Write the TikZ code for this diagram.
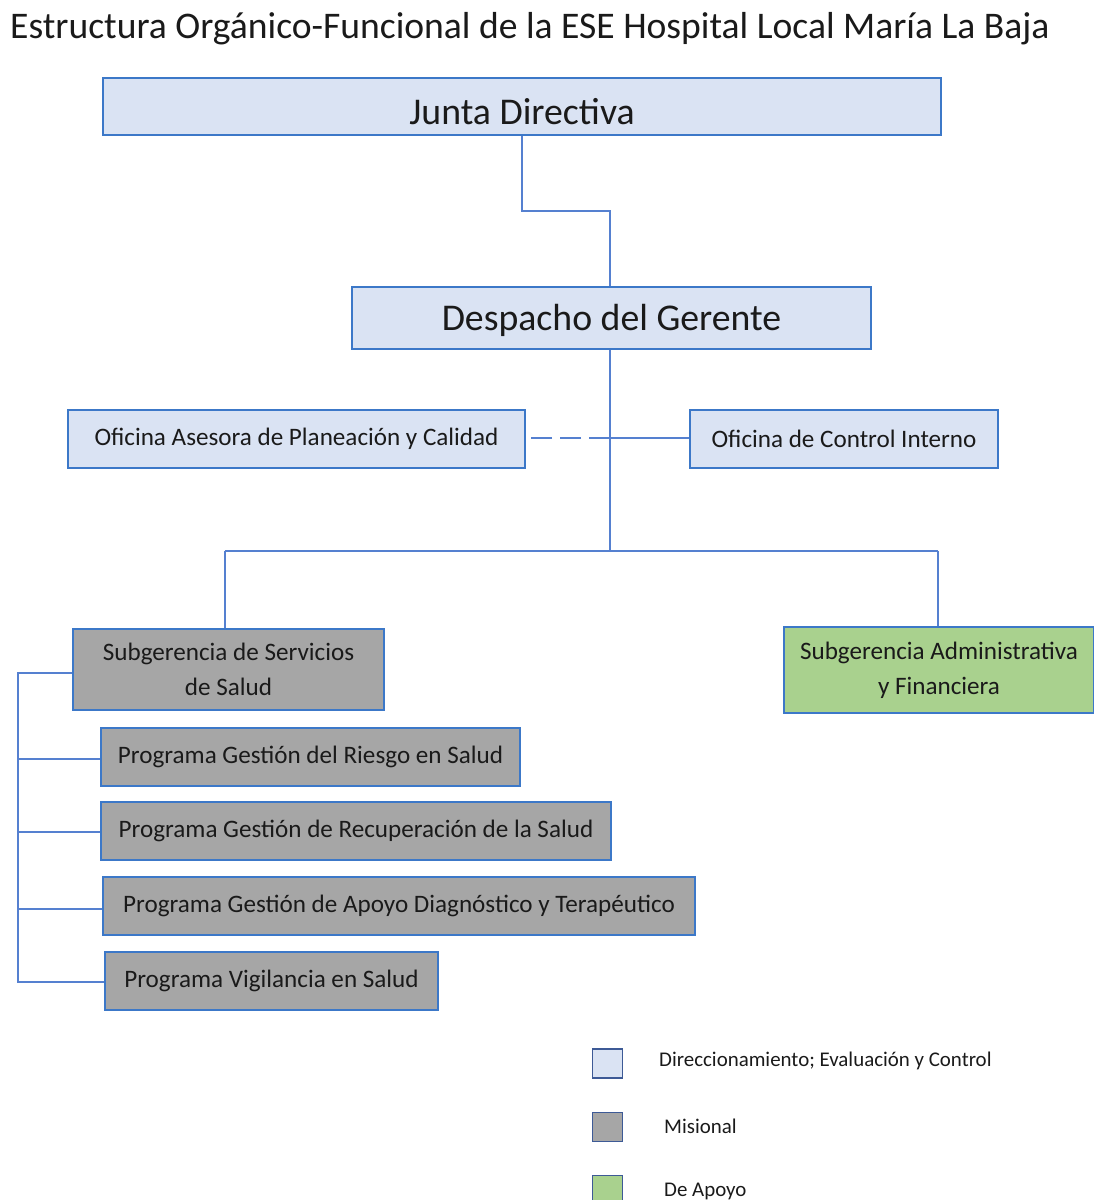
\documentclass[tikz,border=0pt]{standalone}
\usepackage{fontspec}
\setmainfont{Carlito}
\begin{document}
\begin{tikzpicture}[x=0.02cm,y=-0.02cm]
\definecolor{bfill}{HTML}{DAE3F3}
\definecolor{gfill}{HTML}{A6A6A6}
\definecolor{grfill}{HTML}{A9D18E}
\definecolor{bord}{HTML}{3C78C8}
\definecolor{lin}{HTML}{5580D0}
\definecolor{txt}{HTML}{1A1A1A}
\definecolor{legb}{HTML}{3D5A96}
\tikzset{
  box/.style={draw=bord, line width=1.1pt, inner sep=0pt, text=txt, align=center},
  dirbox/.style={box, fill=bfill},
  misbox/.style={box, fill=gfill},
  apobox/.style={box, fill=grfill},
  small/.style={font=\fontsize{14.3}{17}\selectfont},
  twoline/.style={font=\fontsize{14.3}{20}\selectfont},
  conn/.style={draw=lin, line width=1pt},
  legsq/.style={draw=legb, line width=1.1pt, minimum width=0.6cm, minimum height=0.58cm, inner sep=0pt},
  legtxt/.style={anchor=west, text=txt, font=\fontsize{11.9}{14}\selectfont}
}
\useasboundingbox (0,0) rectangle (1094,1200);
\node[anchor=west, text=txt, font=\fontsize{21.4}{25}\selectfont] (title) at (4,29) {Estructura Orgánico-Funcional de la ESE Hospital Local María La Baja};

\node[dirbox, minimum width=16.76cm, minimum height=1.14cm, font=\fontsize{21.5}{25}\selectfont] (junta) at (522,106.5) {\raisebox{-0.1cm}[\height][\depth]{Junta Directiva}};
\node[dirbox, minimum width=10.38cm, minimum height=1.24cm, font=\fontsize{21.5}{25}\selectfont] (desp) at (611.5,318) {\raisebox{-0.04cm}[\height][\depth]{Despacho del Gerente}};
\node[dirbox, minimum width=9.14cm, minimum height=1.16cm, small] (plan) at (296.5,439) {Oficina Asesora de Planeación y Calidad};
\node[dirbox, minimum width=6.16cm, minimum height=1.16cm, small] (ctrl) at (844,439) {Oficina de Control Interno};
\node[misbox, minimum width=6.22cm, minimum height=1.62cm, twoline] (subs) at (228.5,669.5) {Subgerencia de Servicios\\de Salud};
\node[apobox, minimum width=6.2cm, minimum height=1.72cm, twoline] (suba) at (939,670) {Subgerencia Administrativa\\y Financiera};
\node[misbox, minimum width=8.38cm, minimum height=1.16cm, small] (p1) at (310.5,757) {Programa Gestión del Riesgo en Salud};
\node[misbox, minimum width=10.2cm, minimum height=1.16cm, small] (p2) at (356,831) {Programa Gestión de Recuperación de la Salud};
\node[misbox, minimum width=11.84cm, minimum height=1.16cm, small] (p3) at (399,906) {Programa Gestión de Apoyo Diagnóstico y Terapéutico};
\node[misbox, minimum width=6.66cm, minimum height=1.16cm, small] (p4) at (271.5,981) {Programa Vigilancia en Salud};

% connectors
\coordinate (j1) at (522,211);
\coordinate (j2) at (610,211);
\draw[conn] (junta.south) -- (j1) -- (j2) -- (desp.north -| j2);
\coordinate (hub) at (610,438);
\coordinate (bus) at (610,551);
\coordinate (busl) at (225,551);
\coordinate (busr) at (938,551);
\draw[conn] (desp.south -| hub) -- (bus);
\draw[conn] (hub) -- (ctrl.west |- hub);
\draw[conn, dash pattern=on 12pt off 4.5pt] (hub) -- (plan.east |- hub);
\draw[conn] (busl) -- (busr);
\draw[conn] (busl) -- (subs.north -| busl);
\draw[conn] (busr) -- (suba.north -| busr);
\coordinate (l0) at (18,673);
\coordinate (l1) at (18,759);
\coordinate (l2) at (18,832);
\coordinate (l3) at (18,909);
\coordinate (l4) at (18,982);
\draw[conn] (subs.west |- l0) -- (l0) -- (l4) -- (p4.west |- l4);
\draw[conn] (l1) -- (p1.west |- l1);
\draw[conn] (l2) -- (p2.west |- l2);
\draw[conn] (l3) -- (p3.west |- l3);

% legend
\node[legsq, fill=bfill] (lg1) at (607.5,1063.5) {};
\node[legsq, fill=gfill] (lg2) at (607.5,1127) {};
\node[legsq, fill=grfill] (lg3) at (607.5,1190) {};
\node[legtxt] (lt1) at (653,1061) {Direccionamiento; Evaluación y Control};
\node[legtxt] (lt2) at (658,1126) {Misional};
\node[legtxt] (lt3) at (658,1191) {De Apoyo};
\end{tikzpicture}
\end{document}
